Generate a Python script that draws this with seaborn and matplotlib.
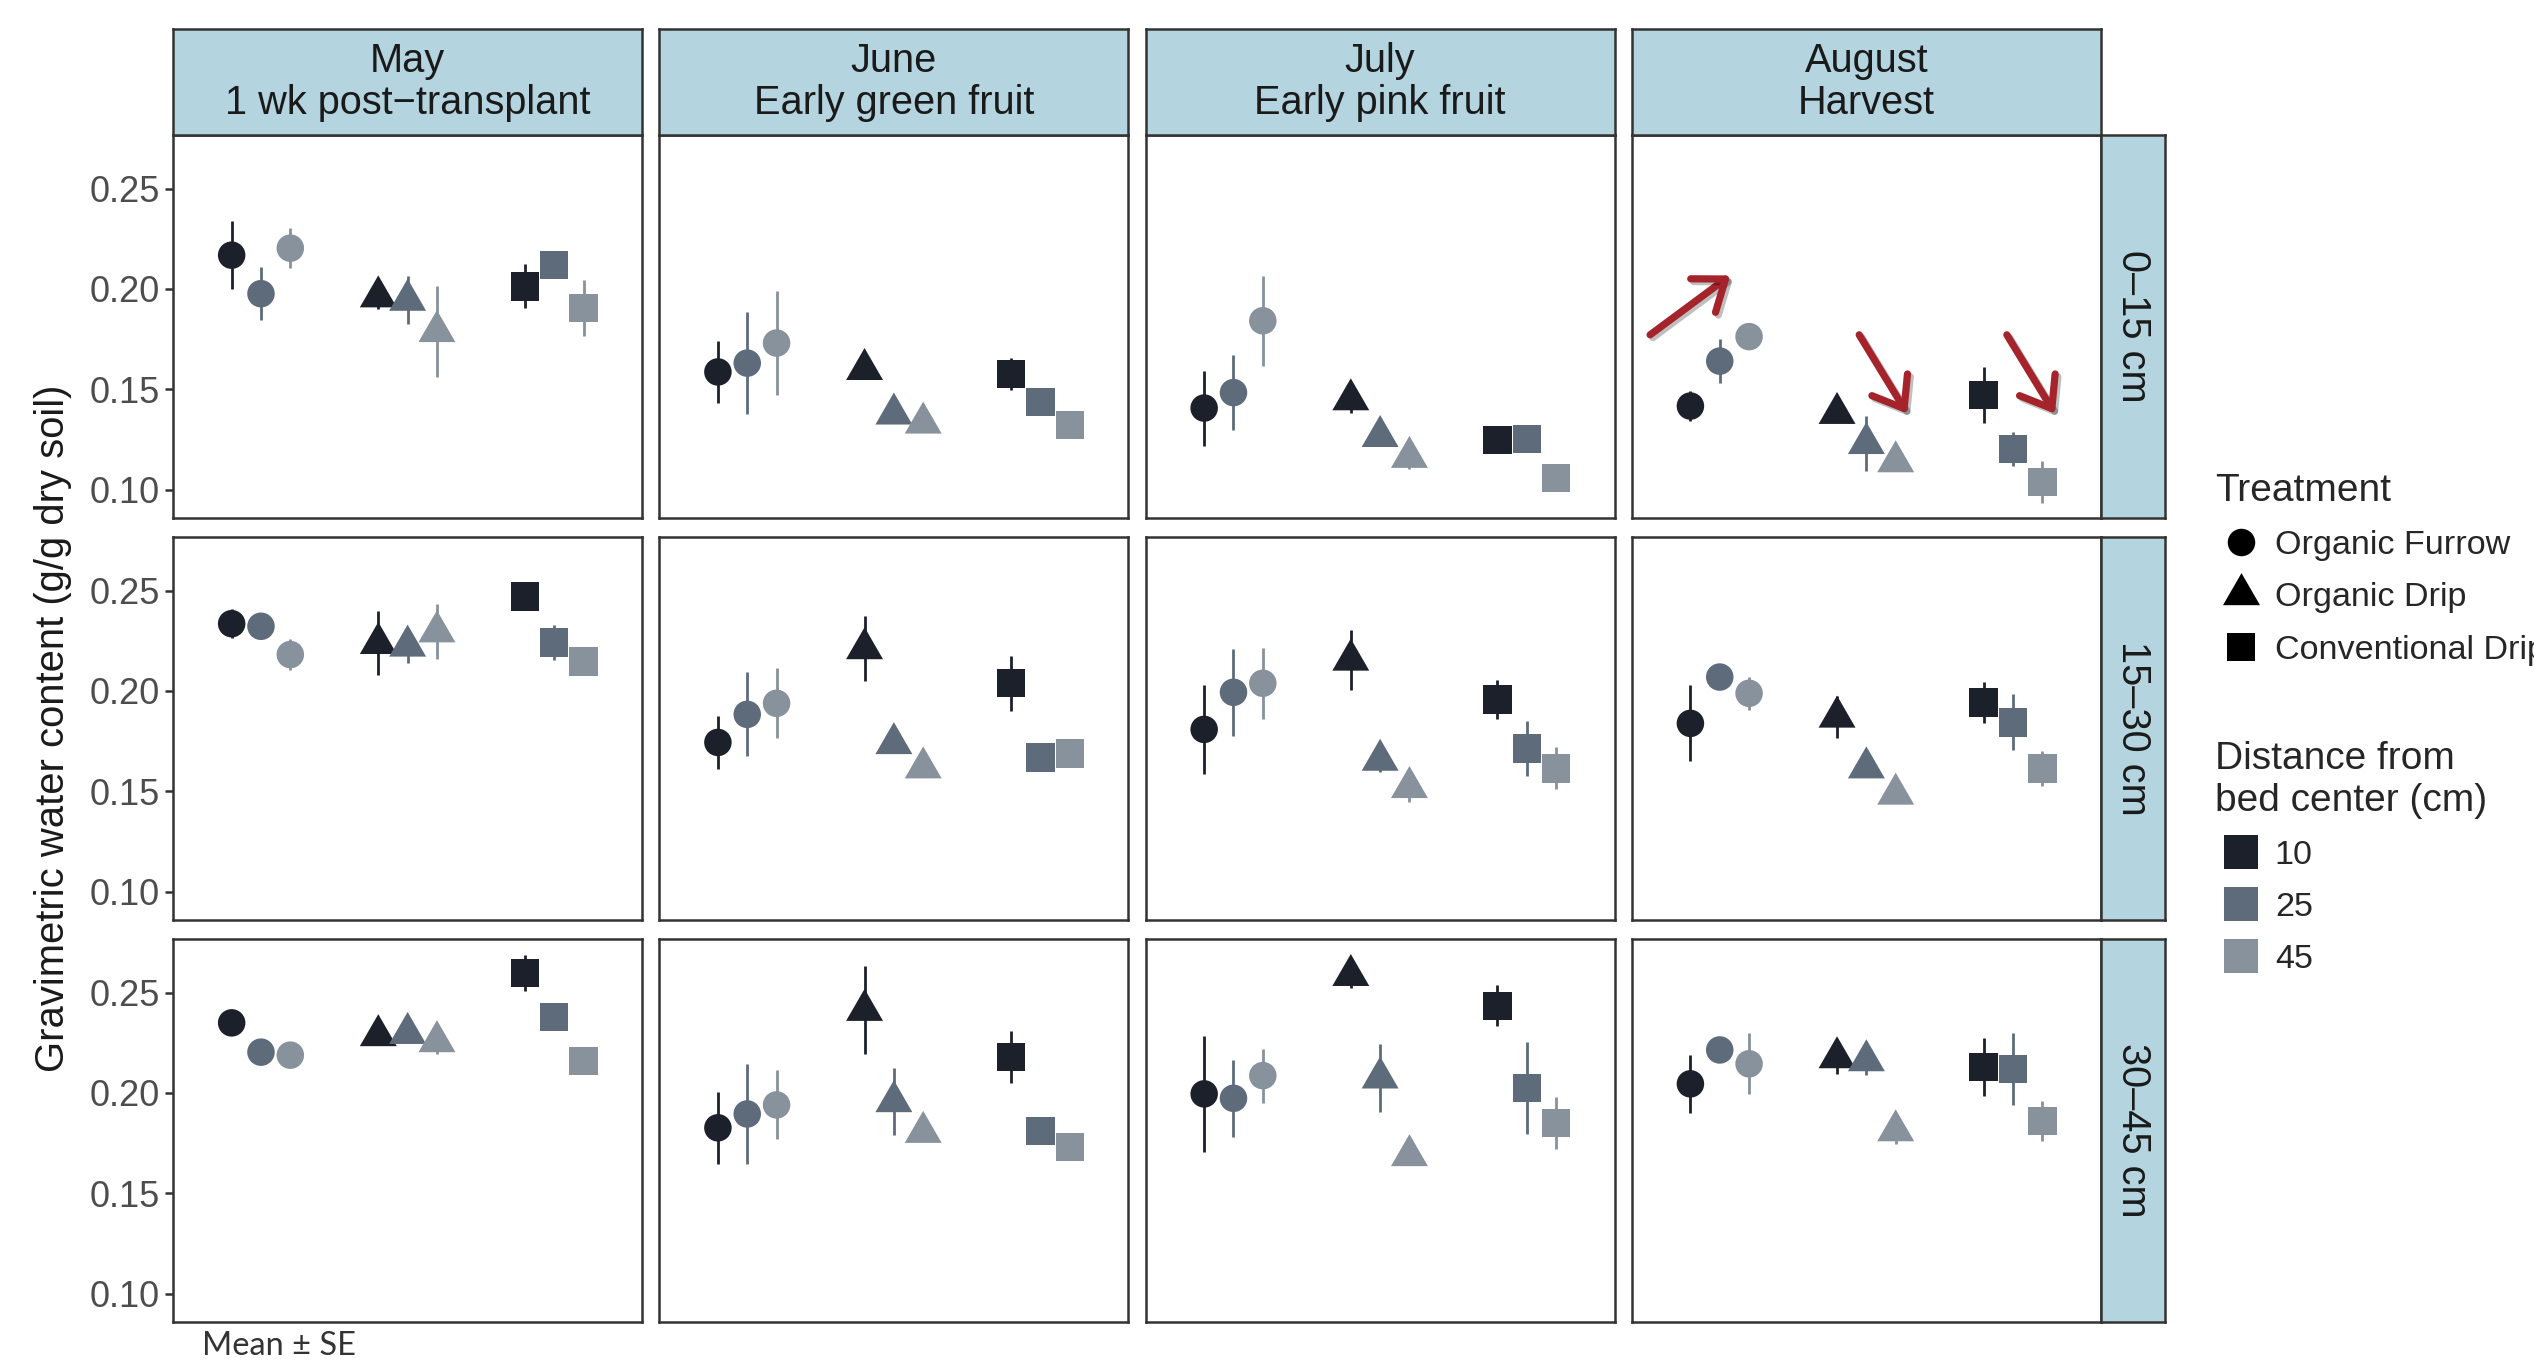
import numpy as np
import pandas as pd
import matplotlib
matplotlib.use("Agg")
import matplotlib.pyplot as plt
import matplotlib.patheffects as pe
from matplotlib.lines import Line2D
import seaborn as sns

# ---- categories -------------------------------------------------------------
months = ["May", "June", "July", "August"]
stages = ["1 wk post\u2212transplant", "Early green fruit", "Early pink fruit", "Harvest"]
depths = ["0\u201315 cm", "15\u201330 cm", "30\u201345 cm"]
treatments = ["Organic Furrow", "Organic Drip", "Conventional Drip"]
distances = ["10", "25", "45"]

# ---- values: one row per month, columns ordered treatment x distance --------
# (OF10, OF25, OF45, OD10, OD25, OD45, CD10, CD25, CD45)
mean_0_15 = [
    [0.2168, 0.1976, 0.2203, 0.1961, 0.1944, 0.1788, 0.2013, 0.2118, 0.1904],
    [0.1586, 0.1630, 0.1730, 0.1599, 0.1377, 0.1332, 0.1576, 0.1436, 0.1322],
    [0.1406, 0.1483, 0.1841, 0.1448, 0.1265, 0.1161, 0.1247, 0.1252, 0.1058],
    [0.1416, 0.1640, 0.1762, 0.1380, 0.1230, 0.1139, 0.1471, 0.1202, 0.1038],
]
se_0_15 = [
    [0.0171, 0.0131, 0.0101, 0.0060, 0.0119, 0.0226, 0.0109, 0.0030, 0.0139],
    [0.0154, 0.0256, 0.0261, 0.0020, 0.0020, 0.0010, 0.0080, 0.0020, 0.0020],
    [0.0187, 0.0188, 0.0224, 0.0066, 0.0030, 0.0060, 0.0030, 0.0020, 0.0020],
    [0.0075, 0.0110, 0.0040, 0.0020, 0.0138, 0.0020, 0.0141, 0.0085, 0.0104],
]
mean_15_30 = [
    [0.2335, 0.2322, 0.2181, 0.2237, 0.2224, 0.2295, 0.2471, 0.2241, 0.2147],
    [0.1743, 0.1883, 0.1938, 0.2211, 0.1738, 0.1617, 0.2038, 0.1668, 0.1688],
    [0.1808, 0.1993, 0.2038, 0.2154, 0.1655, 0.1519, 0.1958, 0.1713, 0.1614],
    [0.1838, 0.2069, 0.1988, 0.1870, 0.1617, 0.1486, 0.1943, 0.1843, 0.1614],
]
se_15_30 = [
    [0.0073, 0.0020, 0.0076, 0.0160, 0.0083, 0.0136, 0.0020, 0.0087, 0.0020],
    [0.0130, 0.0209, 0.0174, 0.0164, 0.0030, 0.0020, 0.0136, 0.0020, 0.0020],
    [0.0223, 0.0216, 0.0178, 0.0151, 0.0060, 0.0075, 0.0098, 0.0136, 0.0104],
    [0.0189, 0.0020, 0.0083, 0.0103, 0.0030, 0.0020, 0.0102, 0.0139, 0.0087],
]
mean_30_45 = [
    [0.2349, 0.2203, 0.2188, 0.2286, 0.2297, 0.2256, 0.2597, 0.2379, 0.2159],
    [0.1826, 0.1895, 0.1940, 0.2412, 0.1957, 0.1804, 0.2179, 0.1809, 0.1731],
    [0.1995, 0.1973, 0.2086, 0.2586, 0.2075, 0.1688, 0.2434, 0.2025, 0.1850],
    [0.2045, 0.2214, 0.2145, 0.2176, 0.2161, 0.1812, 0.2130, 0.2120, 0.1860],
]
se_30_45 = [
    [0.0020, 0.0020, 0.0020, 0.0020, 0.0020, 0.0060, 0.0090, 0.0020, 0.0020],
    [0.0180, 0.0248, 0.0172, 0.0218, 0.0167, 0.0020, 0.0130, 0.0020, 0.0020],
    [0.0288, 0.0193, 0.0135, 0.0063, 0.0168, 0.0020, 0.0103, 0.0228, 0.0130],
    [0.0146, 0.0030, 0.0153, 0.0080, 0.0070, 0.0066, 0.0145, 0.0178, 0.0101],
]

means = {depths[0]: mean_0_15, depths[1]: mean_15_30, depths[2]: mean_30_45}
ses = {depths[0]: se_0_15, depths[1]: se_15_30, depths[2]: se_30_45}

# ---- long table --------------------------------------------------------------
rows = []
for d in depths:
    for mi, m in enumerate(months):
        k = 0
        for t in treatments:
            for dist in distances:
                rows.append(dict(depth=d, month=m, treatment=t, distance=dist,
                                 mean=means[d][mi][k], se=ses[d][mi][k]))
                k += 1
df = pd.DataFrame(rows)

# dodged x positions: treatment slot +/- 0.2 by distance
df["xpos"] = (df["treatment"].map({t: i + 1 for i, t in enumerate(treatments)})
              + df["distance"].map({d: (i - 1) * 0.2 for i, d in enumerate(distances)}))

# ---- styling -----------------------------------------------------------------
palette = {"10": "#1b202b", "25": "#5d6b7b", "45": "#87929d"}
tri = [(0, 1), (-0.866, -0.5), (0.866, -0.5), (0, 1)]
markers = {"Organic Furrow": "o", "Organic Drip": tri, "Conventional Drip": "s"}
sizes = {"Organic Furrow": 98, "Organic Drip": 236, "Conventional Drip": 105}
strip_fc = "#b4d4df"
edge = "#333333"

sns.set_style("white")
plt.rcParams["font.family"] = ["Liberation Sans", "DejaVu Sans"]
plt.rcParams["axes.linewidth"] = 0.9


def draw_panel(data, **kws):
    ax = plt.gca()
    for dist in distances:
        sub = data[data["distance"] == dist]
        ax.errorbar(sub["xpos"], sub["mean"], yerr=sub["se"], fmt="none",
                    ecolor=palette[dist], elinewidth=1.0, capsize=0, zorder=2)
    sns.scatterplot(data=data, x="xpos", y="mean", hue="distance", style="treatment",
                    size="treatment", hue_order=distances, style_order=treatments,
                    size_order=treatments, palette=palette, markers=markers,
                    sizes=sizes, linewidth=0, legend=False, ax=ax, zorder=3)


g = sns.FacetGrid(df, row="depth", col="month", row_order=depths, col_order=months,
                  sharex=True, sharey=True, despine=False, height=2, aspect=1.2)
g.map_dataframe(draw_panel)
g.set_titles(template="")
g.set_axis_labels("", "")

fig = g.figure
fig.set_size_inches(2534 / 200, 1363 / 200)
fig.subplots_adjust(left=173 / 2534, right=2101 / 2534, top=1 - 135 / 1363,
                    bottom=1 - 1322 / 1363, wspace=17 / 469, hspace=19 / 383)

strip_fs = 14.3
for (ri, ci), ax in np.ndenumerate(g.axes):
    ax.set_xlim(0.4, 3.6)
    ax.set_ylim(0.0858, 0.2767)
    ax.set_xticks([])
    ax.set_yticks([0.10, 0.15, 0.20, 0.25])
    ax.set_yticklabels(["0.10", "0.15", "0.20", "0.25"])
    ax.tick_params(axis="y", left=(ci == 0), length=2.8, width=0.9, color=edge,
                   labelsize=13, labelcolor="#4d4d4d", pad=1.8)
    for s in ax.spines.values():
        s.set_color(edge)
        s.set_linewidth(0.9)
    ax.set_facecolor("white")
    if ri == 0:
        st = ax.inset_axes([0, 1, 1, 0.277])
        st.set_facecolor(strip_fc)
        st.set_xticks([]); st.set_yticks([])
        for s in st.spines.values():
            s.set_color(edge); s.set_linewidth(0.9)
        st.text(0.5, 0.5, f"{months[ci]}\n{stages[ci]}", ha="center", va="center",
                fontsize=strip_fs, color="#1a1a1a", linespacing=1.12, transform=st.transAxes)
    if ci == 3:
        st = ax.inset_axes([1, 0, 0.136, 1])
        st.set_facecolor(strip_fc)
        st.set_xticks([]); st.set_yticks([])
        for s in st.spines.values():
            s.set_color(edge); s.set_linewidth(0.9)
        st.text(0.5, 0.5, depths[ri], ha="center", va="center", rotation=-90,
                fontsize=strip_fs, color="#1a1a1a", transform=st.transAxes)

# arrows marking the August surface-layer trends
arrow_ax = g.axes[0, 3]
arrow_color = "#a5232a"
for tail, head in [((0.525, 0.1771), (1.072, 0.2067)),
                   ((1.951, 0.1771), (2.279, 0.1378)),
                   ((2.958, 0.1771), (3.286, 0.1378))]:
    arrow_ax.annotate("", xy=head, xytext=tail,
                      arrowprops=dict(arrowstyle="->,head_length=1.0,head_width=0.75",
                                      color=arrow_color, lw=2.6, mutation_scale=10,
                                      shrinkA=0, shrinkB=0,
                                      path_effects=[pe.SimpleLineShadow(offset=(1, -1), alpha=0.25),
                                                    pe.Normal()]),
                      zorder=5)

fig.text(53 / 2534, 1 - 728 / 1363, "Gravimetric water content (g/g dry soil)",
         rotation=90, ha="center", va="center", fontsize=14.4, color="#1a1a1a")
fig.text(202 / 2534, 1 - 1346 / 1363, "Mean \u00b1 SE", ha="left", va="center",
         fontsize=11.7, color="#333333", family=["Lato", "DejaVu Sans"])

# legends
treat_handles = [
    Line2D([], [], linestyle="", marker="o", markersize=9.9, color="black", markeredgewidth=0),
    Line2D([], [], linestyle="", marker=tri, markersize=15.4, color="black", markeredgewidth=0),
    Line2D([], [], linestyle="", marker="s", markersize=10.3, color="black", markeredgewidth=0),
]
leg1 = fig.legend(treat_handles, treatments, title="Treatment", loc="upper left",
                  bbox_to_anchor=(2215 / 2534, 1 - 473 / 1363), frameon=False,
                  fontsize=12.3, title_fontsize=14, borderpad=0, borderaxespad=0,
                  handlelength=1.5, handletextpad=0.25, labelspacing=0.62,
                  alignment="left")
dist_handles = [Line2D([], [], linestyle="", marker="s", markersize=12, color=palette[d],
                       markeredgewidth=0) for d in distances]
leg2 = fig.legend(dist_handles, distances, title="Distance from\nbed center (cm)",
                  loc="upper left", bbox_to_anchor=(2215 / 2534, 1 - 741 / 1363),
                  frameon=False, fontsize=12.3, title_fontsize=14, borderpad=0,
                  borderaxespad=0, handlelength=1.5, handletextpad=0.25,
                  labelspacing=0.62, alignment="left")

fig.savefig("out.png", dpi=200, facecolor="white")
